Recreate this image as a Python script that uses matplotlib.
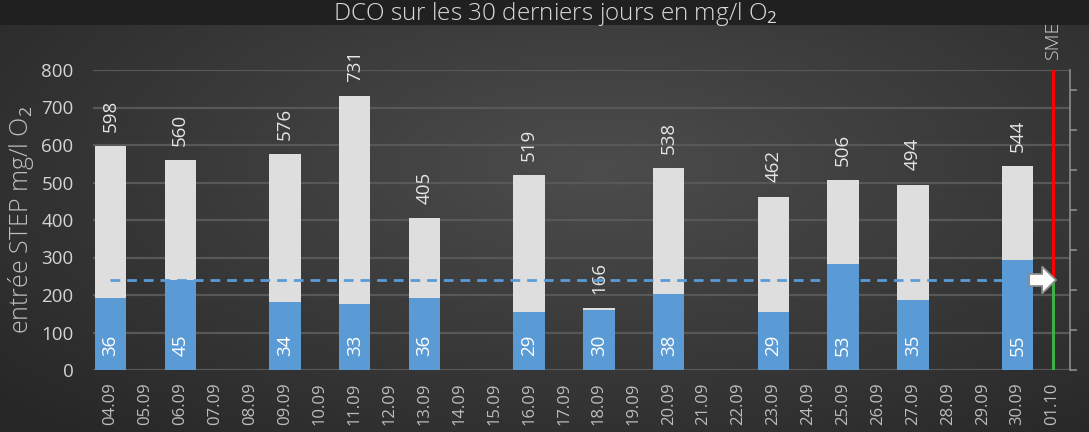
import numpy as np
import matplotlib.pyplot as plt
from matplotlib.patches import FancyArrow

# Data
days = ["04.09", "05.09", "06.09", "07.09", "08.09", "09.09", "10.09", "11.09",
        "12.09", "13.09", "14.09", "15.09", "16.09", "17.09", "18.09", "19.09",
        "20.09", "21.09", "22.09", "23.09", "24.09", "25.09", "26.09", "27.09",
        "28.09", "29.09", "30.09", "01.10"]
measure_days = ["04.09", "06.09", "09.09", "11.09", "13.09", "16.09", "18.09",
                "20.09", "23.09", "25.09", "27.09", "30.09"]
dco_in = [598, 560, 576, 731, 405, 519, 166, 538, 462, 506, 494, 544]
dco_out = [36, 45, 34, 33, 36, 29, 30, 38, 29, 53, 35, 55]
limit_out = 45  # SME limit (right axis)

plt.rcParams['font.family'] = ['Open Sans', 'DejaVu Sans']
plt.rcParams['mathtext.fontset'] = 'custom'
plt.rcParams['mathtext.rm'] = 'Open Sans'
plt.rcParams['mathtext.it'] = 'Open Sans'
plt.rcParams['mathtext.default'] = 'rm'

W, H = 10.89, 4.32
fig = plt.figure(figsize=(W, H), dpi=100)
fig.patch.set_facecolor("#202020")

# -----------------------------
# gradient background
# -----------------------------
bg = fig.add_axes([0, 0, 1, 1 - 25 / 432])
bg.set_axis_off()
yy, xx = np.mgrid[0:1:200j, 0:1:400j]
d = np.sqrt(((xx - 0.55) / 0.75) ** 2 + ((yy - 0.35) / 0.9) ** 2)
shade = 0.30 - 0.15 * np.clip(d, 0, 1)
img = np.dstack([shade, shade, shade])
bg.imshow(img, aspect="auto", extent=[0, 1, 1, 0], interpolation="bilinear")

# -----------------------------
# main chart
# -----------------------------
ax = fig.add_axes([93 / 1089, 1 - 370 / 432, (1070 - 93) / 1089, 300 / 432])
ax.set_facecolor("none")
x = np.arange(len(days))
pos = [days.index(d) for d in measure_days]
ax2 = ax.twinx()

ax.bar(pos, dco_in, width=0.9, color="#dedede", zorder=3)
for p, v in zip(pos, dco_in):
    ax.text(p, v + 38, str(v), rotation=90, ha="center", va="bottom",
            color="#e6e6e6", fontsize=13.5, zorder=5)

ax2.bar(pos, dco_out, width=0.9, color="#5b9bd5", zorder=3)
for p, v in zip(pos, dco_out):
    ax2.text(p, 12.5, str(v), rotation=90, ha="center", va="center",
             color="white", fontsize=13.5, zorder=5)

# limit line + SME marker
ax2.plot([0, 26.3], [limit_out, limit_out], color="#5b9bd5", lw=2,
         ls=(0, (3.5, 2.5)), zorder=4)
ax2.plot([27, 27], [limit_out, 149.5], color="#ff0000", lw=2.2, zorder=4)
ax2.plot([27, 27], [1, limit_out], color="#3cb043", lw=2.2, zorder=4)
ax2.add_patch(FancyArrow(26.33, limit_out, 0.77, 0, width=6, head_width=13.5,
                         head_length=0.4, length_includes_head=True,
                         facecolor="white", edgecolor="#8c8c8c", lw=1.3,
                         zorder=6))
ax2.text(27, 1.10, "SME", transform=ax2.get_xaxis_transform(), rotation=90,
         ha="center", va="center", color="#d0d0d0", fontsize=14,
         fontweight="light")

ax.set_xlim(-0.5, len(days) - 0.5)
ax.set_ylim(0, 800)
ax2.set_ylim(0, 150)

ax.set_yticks(range(0, 801, 100))
ax.yaxis.grid(True, color="#585858", lw=1.6, zorder=0)
ax.set_axisbelow(True)
ax.tick_params(axis="y", length=0, pad=14, labelsize=13.5, labelcolor="#d4d4d4")
ax.set_xticks(x)
ax.set_xticklabels(days, rotation=90)
ax.tick_params(axis="x", length=0, pad=9, labelsize=12, labelcolor="#bdbdbd")

ax2.set_yticks(range(0, 141, 20))
ax2.set_yticklabels([])
ax2.tick_params(axis="y", direction="out", length=5, width=1.2, color="#8c8c8c")

for a in (ax, ax2):
    for s in ("top", "left", "bottom"):
        a.spines[s].set_visible(False)
ax.spines["right"].set_visible(False)
ax2.spines["right"].set_color("#8c8c8c")
ax2.spines["right"].set_linewidth(1.2)

ax.set_ylabel("entrée STEP mg/l O$_2$", color="#bfbfbf", fontsize=18,
              fontweight="light", labelpad=4)

fig.text(0.51, 1 - 14 / 432, "DCO sur les 30 derniers jours en mg/l O$_2$",
         ha="center", va="center", color="#d9d9d9", fontsize=17.5,
         fontweight="light")

fig.savefig("out.png", dpi=100, facecolor=fig.get_facecolor())
